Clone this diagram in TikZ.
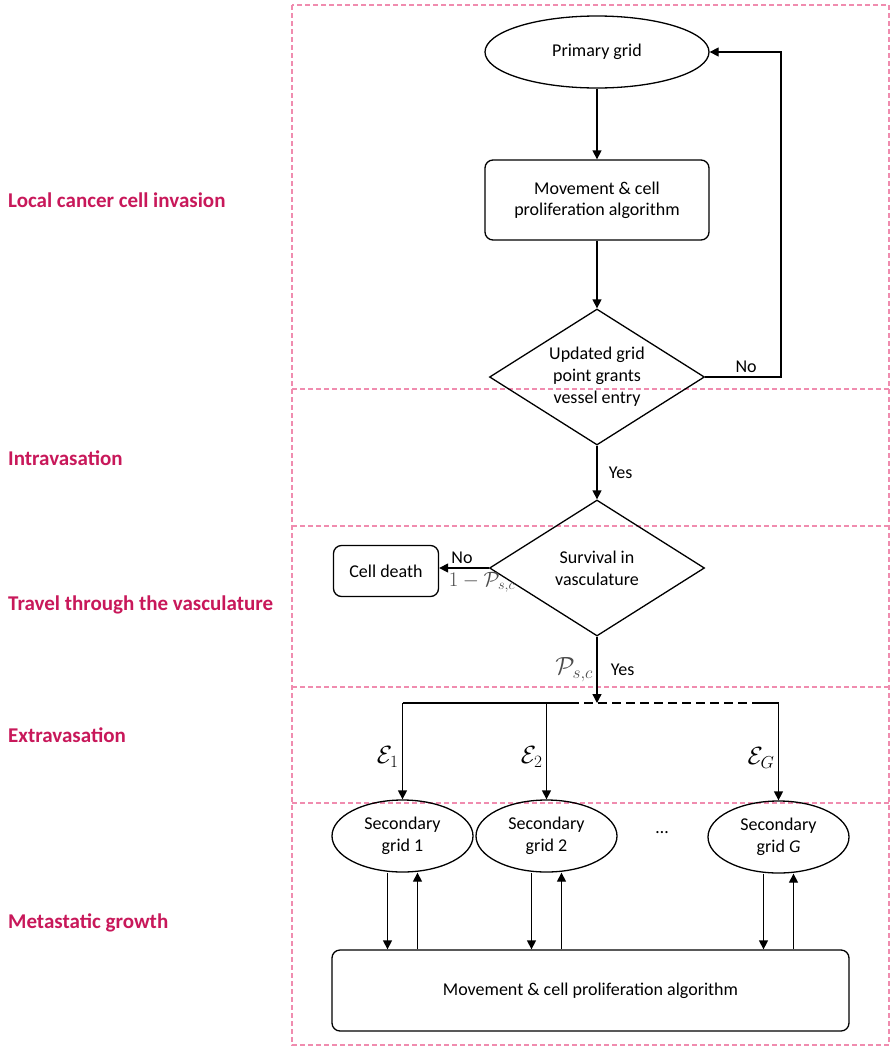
\documentclass[tikz,border=0pt]{standalone}
\usepackage{fontspec}
\setmainfont{Carlito}
\usepackage{tikz}
\usetikzlibrary{positioning,shapes,arrows.meta,calc}
\usepackage{amsmath,amssymb}
\definecolor{stagecol}{RGB}{200,24,90}
\definecolor{framepink}{RGB}{240,140,175}
\tikzset{
    stage/.style={anchor=west, text=stagecol, inner sep=0pt, font=\fontsize{21}{25}\selectfont\bfseries},
    gridnode/.style={ellipse, draw, line width=1.3pt, align=center, inner sep=0pt},
    box/.style={rectangle, draw, line width=1.3pt, rounded corners=8pt, align=center},
    decision/.style={diamond, draw, line width=1.3pt, align=center, inner sep=0pt, shape aspect=1.6, minimum width=215pt, minimum height=136pt},
    line/.style={draw, line width=1.3pt, -{Triangle[length=9pt,width=9pt]}},
    part/.style={draw=framepink, line width=1.1pt, dash pattern=on 5pt off 3pt},
    mathlbl/.style={font=\fontsize{24}{28}\selectfont}
}
\begin{document}
\begin{tikzpicture}[x=1pt, y=-1pt, font=\fontsize{18}{22}\selectfont]
    \useasboundingbox (0,0) rectangle (891,1047);
    \draw[part] (292,5) rectangle (889,1045);
    \foreach \y in {389,526,687,803} \draw[part] (292,\y) -- (889,\y);

    \node[stage] (local) at (8,200) {Local cancer cell invasion};
    \node[stage] (intra) at (8,458) {Intravasation};
    \node[stage] (travel) at (8,605) {Travel through the vasculature};
    \node[stage] (extra) at (8,735) {Extravasation};
    \node[stage] (meta) at (8,923) {Metastatic growth};

    \node[gridnode, minimum width=224pt, minimum height=72pt] (prim) at (597,52) {Primary grid};
    \node[box, minimum width=224pt, minimum height=80pt, font=\fontsize{18}{21}\selectfont] (move) at (597,200) {Movement \& cell\\proliferation algorithm};
    \node[decision] (entry) at (597,377) {Updated grid\\point grants\\vessel entry};
    \node[decision] (surv) at (597,568) {Survival in\\vasculature};
    \node[box, minimum width=105pt, minimum height=51pt] (death) at (386,571) {Cell death};
    \coordinate (loop) at (781,52);
    \coordinate (split) at (597,703);
    \coordinate (dashA) at (570,703);
    \coordinate (dashB) at (753,703);
    \node[gridnode, minimum width=141pt, minimum height=72pt] (sec1) at (402.5,836) {Secondary\\grid 1};
    \node[gridnode, minimum width=141pt, minimum height=72pt] (sec2) at (546.5,836) {Secondary\\grid 2};
    \node (dots) at (662,833) {\ldots};
    \node[gridnode, minimum width=141pt, minimum height=72pt] (secG) at (778.5,837) {Secondary\\grid \textit{G}};
    \node[box, minimum width=517pt, minimum height=81pt] (alg) at (590.5,990.5) {Movement \& cell proliferation algorithm};

    \draw[line] (prim) -- (move);
    \draw[line] (move) -- (entry);
    \draw[line] (entry.east) -- node[above, xshift=3pt] {No} (entry.east -| loop) -- (loop) -- (prim.east);
    \draw[line] (entry) -- node[right, xshift=8pt] {Yes} (surv);
    \draw[line] (surv.west) -- node[above, xshift=-2pt] {No} node[below=4pt, xshift=18pt, font=\fontsize{20}{24}\selectfont, text=black!70, inner sep=0pt] {$1-\mathcal{P}_{s,c}$} (surv.west -| death.east);
    \draw[line] (surv) -- node[left, mathlbl, text=black!70] {$\mathcal{P}_{s,c}$} node[right, xshift=10pt] {Yes} (split);

    \draw[line width=1.3pt] (sec1.north |- split) -- (dashA);
    \draw[line width=1.3pt, dash pattern=on 9pt off 5pt] (dashA) -- (dashB);
    \draw[line width=1.3pt] (dashB) -- (secG.north |- split);
    \draw[line] (sec1.north |- split) -- node[left, mathlbl, yshift=-6pt] {$\mathcal{E}_1$} (sec1);
    \draw[line] (sec2.north |- split) -- node[left, mathlbl, yshift=-6pt] {$\mathcal{E}_2$} (sec2);
    \draw[line] (secG.north |- split) -- node[left, mathlbl, yshift=-6pt] {$\mathcal{E}_G$} (secG);

    \foreach \s in {sec1,sec2,secG} {
        \draw[line] ([xshift=-15pt]\s.south) -- ([xshift=-15pt]\s.south |- alg.north);
        \draw[line] ([xshift=15pt]\s.south |- alg.north) -- ([xshift=15pt]\s.south);
    }
\end{tikzpicture}
\end{document}
